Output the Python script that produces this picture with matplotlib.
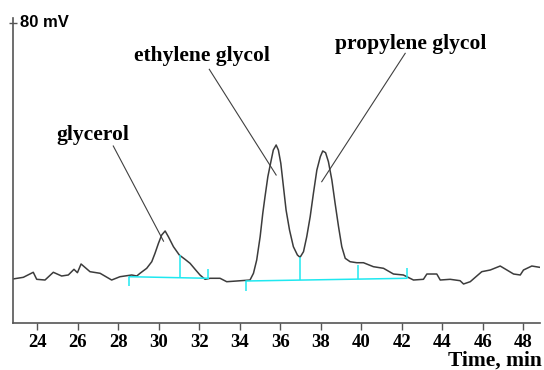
import numpy as np
import matplotlib
matplotlib.use("Agg")
from matplotlib import pyplot as plt

# chromatogram trace: time (min) and signal (mV)
time_min = [22.80, 23.32, 23.81, 23.98, 24.39, 24.80, 25.21, 25.54, 25.82, 25.99,
            26.17, 26.61, 27.11, 27.68, 28.09, 28.67, 28.92, 29.08, 29.41, 29.66,
            29.82, 29.99, 30.15, 30.32, 30.48, 30.73, 31.02, 31.30, 31.55, 31.80,
            32.04, 32.29, 32.54, 33.03, 33.36, 33.86, 34.51, 34.68, 34.84, 35.01,
            35.14, 35.25, 35.39, 35.54, 35.66, 35.80, 35.91, 36.03, 36.16, 36.29,
            36.46, 36.65, 36.85, 36.98, 37.15, 37.31, 37.48, 37.64, 37.81, 37.98,
            38.10, 38.24, 38.38, 38.55, 38.71, 38.88, 39.04, 39.21, 39.45, 39.78,
            40.11, 40.60, 41.10, 41.59, 42.08, 42.58, 43.07, 43.24, 43.73, 43.90,
            44.39, 44.88, 45.05, 45.38, 45.95, 46.37, 46.86, 47.19, 47.52, 47.85,
            48.01, 48.42, 48.80]
signal_mv = [11.72, 12.17, 13.51, 11.64, 11.45, 13.51, 12.52, 12.79, 14.30, 13.40,
             15.72, 13.67, 13.24, 11.45, 12.33, 12.79, 12.52, 13.24, 14.57, 16.33,
             18.57, 21.23, 23.44, 24.51, 22.99, 20.33, 18.11, 16.97, 15.90, 14.30,
             12.79, 11.64, 11.91, 11.91, 11.00, 11.19, 11.45, 13.24, 16.78, 22.99,
             29.22, 33.64, 38.97, 42.97, 46.08, 47.42, 46.08, 42.54, 36.31, 30.09,
             24.77, 20.33, 18.11, 17.50, 18.99, 22.99, 28.32, 34.55, 40.76, 44.30,
             45.82, 45.37, 42.97, 38.09, 31.89, 25.65, 20.33, 17.23, 16.33, 16.06,
             16.06, 15.00, 14.57, 13.05, 12.79, 11.45, 11.64, 13.05, 13.05, 11.45,
             11.64, 11.27, 10.39, 11.00, 13.67, 14.12, 15.18, 14.12, 13.05, 12.79,
             14.12, 15.18, 14.84]

# integration baselines (start, end) and drop lines
base1_t = [28.55, 32.45]
base1_v = [12.33, 11.91]
base2_t = [34.32, 42.25]
base2_v = [11.19, 11.91]
# vertical markers: time, low mV, high mV
marks_t = [28.55, 31.06, 32.45, 34.32, 36.99, 39.86, 42.25]
marks_lo = [9.86, 12.10, 11.91, 8.60, 11.50, 11.70, 11.91]
marks_hi = [12.33, 18.00, 14.38, 11.19, 17.50, 15.45, 14.57]

# peak labels: text, text position, line start, line end
peak_names = ["glycerol", "ethylene glycol", "propylene glycol"]
label_t = [26.76, 32.13, 42.45]
label_v = [48.75, 69.87, 72.99]
line_from = [(27.76, 47.15), (32.50, 67.58), (42.17, 71.84)]
line_to = [(30.24, 21.80), (35.80, 39.42), (38.05, 37.64)]

xticks = list(range(24, 49, 2))

fig = plt.figure(figsize=(5.44, 3.70), dpi=100)
ax = fig.add_axes([13 / 544, 47 / 370, 526.5 / 544, 305 / 370])

ax.plot(time_min, signal_mv, color="#3c3c3c", lw=1.1)

cyan = "#1fe8f0"
ax.plot(base1_t, base1_v, color=cyan, lw=1.1)
ax.plot(base2_t, base2_v, color=cyan, lw=1.1)
ax.vlines(marks_t, marks_lo, marks_hi, color=cyan, lw=1.1)

serif = ["Liberation Serif", "DejaVu Serif"]
for name, tx, ty, p0, p1 in zip(peak_names, label_t, label_v, line_from, line_to):
    ax.text(tx, ty, name, ha="center", va="baseline", fontsize=15.5,
            fontweight="bold", family=serif)
    ax.plot([p0[0], p1[0]], [p0[1], p1[1]], color="#404040", lw=0.8)

ax.set_xlim(22.81, 48.8)
ax.set_ylim(0, 81.25)
ax.set_xticks(xticks)
ax.set_xticklabels([str(t) for t in xticks], fontsize=13.5, fontweight="bold",
                   family=serif)
ax.tick_params(axis="x", direction="out", length=5, width=1, color="#555555", pad=3)
ax.set_yticks([80])
ax.set_yticklabels([])
ax.tick_params(axis="y", direction="inout", length=6, width=1, color="#555555")

for side in ["top", "right"]:
    ax.spines[side].set_visible(False)
for side in ["left", "bottom"]:
    ax.spines[side].set_color("#555555")
    ax.spines[side].set_linewidth(1.2)

ax.text(23.16, 80, "80 mV", ha="left", va="center", fontsize=12,
        fontweight="bold", family=["Liberation Sans", "DejaVu Sans"])
fig.text(542 / 544, 4 / 370, "Time, min", ha="right", va="baseline", fontsize=15.5,
         fontweight="bold", family=serif)

fig.savefig("out.png", dpi=100)
